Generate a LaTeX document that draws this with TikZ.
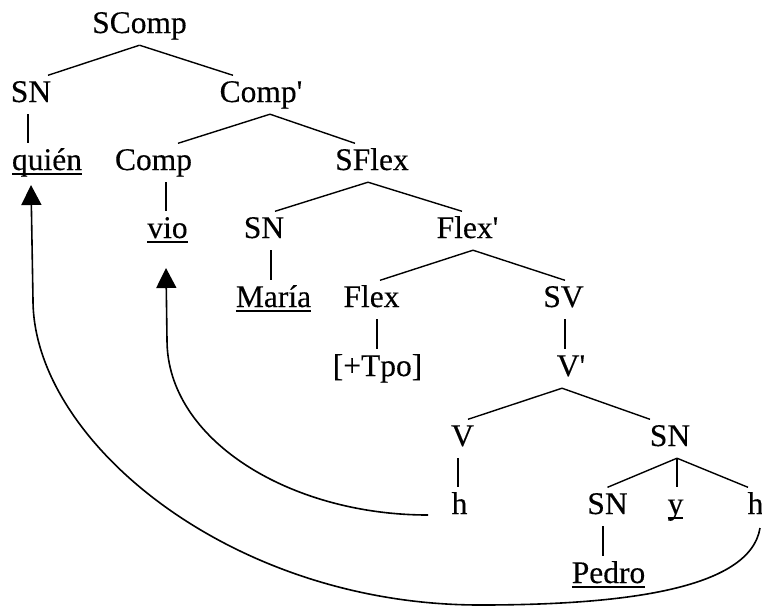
\documentclass[tikz,border=0pt]{standalone}
\usepackage{fontspec}
\setmainfont[FakeBold=0.3]{Liberation Serif}
\usetikzlibrary{arrows.meta,calc}
\newcommand\ulw[1]{\setbox0\hbox{#1}\rlap{\rule[-4.5pt]{\wd0}{1.7pt}}\box0}
\begin{document}
\begin{tikzpicture}[x=1pt,y=-1pt,
  lbl/.style={inner sep=0pt, anchor=base, text height=26.5pt, text depth=12pt,
              font=\fontsize{31.5}{37}\selectfont},
  br/.style={line width=1.4pt},
  stem/.style={line width=1.8pt},
  mv/.style={line width=1.6pt, -{Triangle[width=20pt,length=20pt]}}]
\useasboundingbox (0,0) rectangle (762,611);
% nodes
\node[lbl] (sc) at (139.5,33) {SComp};
\node[lbl] (sn1) at (31,102) {SN};
\node[lbl] (compbar) at (261,102) {Comp\textquotesingle};
\node[lbl] (quien) at (47,170) {\ulw{quién}};
\node[lbl] (comp) at (153.5,170) {Comp};
\node[lbl] (sflex) at (372,170) {SFlex};
\node[lbl] (vio) at (167.5,238) {\ulw{vio}};
\node[lbl] (sn2) at (264,238) {SN};
\node[lbl] (flexbar) at (467.5,238) {Flex\textquotesingle};
\node[lbl] (maria) at (273.5,307) {\ulw{María}};
\node[lbl] (flex) at (371.5,307) {Flex};
\node[lbl] (sv) at (563.5,307) {SV};
\node[lbl] (tpo) at (377.5,376) {[+Tpo]};
\node[lbl] (vbar) at (571,376) {V\textquotesingle};
\node[lbl] (v) at (462.5,446) {V};
\node[lbl] (sn3) at (670,446) {SN};
\node[lbl] (h1) at (459.5,514) {h};
\node[lbl] (sn4) at (607.5,514) {SN};
\node[lbl] (y) at (675.5,514) {\ulw{y}};
\node[lbl] (h2) at (755.5,514) {h};
\node[lbl] (pedro) at (608.5,583) {\ulw{Pedro}};
% branches
\draw[br] (sc.south) -- ([xshift=17pt]sn1.north);
\draw[br] (sc.south) -- ([xshift=-28pt]compbar.north);
\draw[br] ([xshift=9pt]compbar.south) -- ([xshift=24.5pt]comp.north);
\draw[br] ([xshift=9pt]compbar.south) -- ([xshift=-17pt]sflex.north);
\draw[br] ([xshift=-4pt]sflex.south) -- ([xshift=11pt]sn2.north);
\draw[br] ([xshift=-4pt]sflex.south) -- ([xshift=-5.5pt]flexbar.north);
\draw[br] ([xshift=5.5pt]flexbar.south) -- ([xshift=8.5pt]flex.north);
\draw[br] ([xshift=5.5pt]flexbar.south) -- ([xshift=1.5pt]sv.north);
\draw[br] ([xshift=-9pt]vbar.south) -- ([xshift=5.5pt]v.north);
\draw[br] ([xshift=-9pt]vbar.south) -- ([xshift=-20pt]sn3.north);
\draw[br] ([xshift=7pt]sn3.south) -- (sn4.north);
\draw[stem] ([xshift=7pt]sn3.south) -- ([xshift=7pt]sn3.south |- y.north);
\draw[br] ([xshift=7pt]sn3.south) -- ([xshift=-7.5pt]h2.north);
% stems
\draw[stem] ([xshift=-3pt]sn1.south) -- ([xshift=-3pt]sn1.south |- quien.north);
\draw[stem] ([xshift=12.5pt]comp.south) -- ([xshift=12.5pt]comp.south |- vio.north);
\draw[stem] ([xshift=7pt]sn2.south) -- ([xshift=7pt]sn2.south |- maria.north);
\draw[stem] ([xshift=5.5pt]flex.south) -- ([xshift=5.5pt]flex.south |- tpo.north);
\draw[stem] ([xshift=1.5pt]sv.south) -- ([xshift=1.5pt]sv.south |- vbar.north);
\draw[stem] ([xshift=-4.5pt]v.south) -- ([xshift=-4.5pt]v.south |- h1.north);
\draw[stem] ([xshift=-4.5pt]sn4.south) -- ([xshift=-4.5pt]sn4.south |- pedro.north);
% movement arrows
\draw[mv] ($(h2.base)+(4.5,14)$) .. controls (750,590) and (620,605) .. (480,605)
  .. controls (230,605) and (33,440) .. (33,300) -- ($(quien.base)+(-16,15)$);
\draw[mv] ($(h1.base)+(-31.5,1)$) .. controls (290,515) and (167,440) .. (167,340)
  -- ($(vio.base)+(-1.5,30)$);
\end{tikzpicture}
\end{document}
